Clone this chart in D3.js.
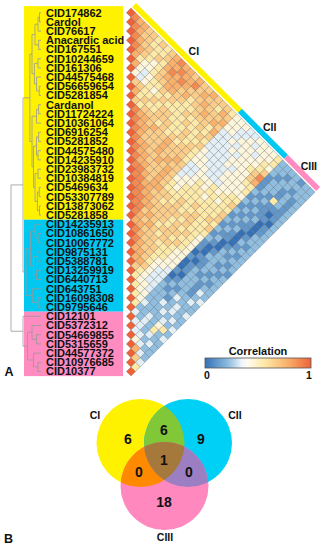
<!DOCTYPE html>
<html>
<head>
<meta charset="utf-8">
<script src="https://cdn.jsdelivr.net/npm/d3@7"></script>
<style>
  body { margin: 0; background: #fff; }
  svg { display: block; font-family: "Liberation Sans", Arial, sans-serif; font-weight: bold; }
</style>
</head>
<body>
<svg id="fig" width="327" height="550"></svg>
<script>
// ---------------------------------------------------------------------------
// Data
// ---------------------------------------------------------------------------

// Compound labels, top to bottom (dendrogram leaf order).
const labels = [
  "CID174862", "Cardol", "CID76617", "Anacardic acid", "CID167551",
  "CID10244659", "CID161306", "CID44575468", "CID56659654", "CID5281854",
  "Cardanol", "CID11724224", "CID10361064", "CID6916254", "CID5281852",
  "CID44575480", "CID14235910", "CID23983732", "CID10384819", "CID5469634",
  "CID53307789", "CID13873062", "CID5281858",
  "CID14235913", "CID10861650", "CID10067772", "CID9875131", "CID5388781",
  "CID13259919", "CID6440713", "CID643751", "CID16098308", "CID9795646",
  "CID12101", "CID5372312", "CID54669855", "CID5315659", "CID44577372",
  "CID10976685", "CID10377"
];

const clusterNames = ["CI", "CII", "CIII"];
const clusterSizes = [23, 10, 7];

// Upper triangle of the correlation matrix, row i holds j = i+1 .. 39.
// One digit per cell, value = digit / 9 (spaces only separate the cluster blocks).
const corrRows = [
  "8776 65656 787767 6676665 4443344445 2222122",
  "876 65556 778778 6766576 4433434445 2212222",
  "87 66565 787876 6676667 4434443454 2122122",
  "8 76545 677767 5667676 3343444456 1221212",
  "75445 667766 5566657 3334344568 1221212",
  "7434 556565 5655656 3333444467 1215212",
  "434 545655 5565565 3333434455 2121112",
  "66 556566 5556556 4333344445 1211012",
  "7 565566 6556565 4433344444 2121102",
  "656665 6565665 4443334455 1212012",
  "87767 6676665 3344454556 2121012",
  "8776 6676676 3345455455 1211022",
  "876 6676766 3445545556 2120122",
  "87 7667676 4455555556 1210212",
  "8 7766676 5455565565 2110122",
  "8776676 5556556556 1201212",
  "887677 6656566555 2102122",
  "88776 6566656554 1012212",
  "8877 6666565654 1022121",
  "887 7666566554 0112212",
  "88 6765665654 1012122",
  "8 7676566544 0121212",
  "7766655544 0122122",
  "876665544 1022132",
  "87665443 0122123",
  "7765433 1212232",
  "776433 2123222",
  "65433 2212323",
  "5443 2232322",
  "544 2223232",
  "54 3222323",
  "5 2232452",
  "3232523",
  "332322",
  "33232",
  "4322",
  "732",
  "63",
  "5"
];

// Dendrogram: [height, left, right]; leaves are row indices.
const dendro = [1.0,
  [0.6,
    [0.37,
      [0.3,
        [0.2, [0.1, [0.05, 0, 1], 2], [0.08, 3, 4]],
        [0.22, [0.1, 5, 6], [0.15, 7, [0.06, 8, 9]]]],
      [0.3,
        [0.15, [0.08, 10, 11], 12],
        [0.25, [0.15, [0.08, 13, 14], [0.1, 15, 16]],
               [0.2, [0.1, 17, 18], [0.12, [0.06, 19, 20], [0.05, 21, 22]]]]]],
    [0.5,
      [0.35, [0.2, 23, [0.1, 24, 25]], [0.25, [0.12, 26, 27], [0.15, 28, 29]]],
      [0.28, 30, [0.1, 31, 32]]]],
  [0.6, 33, [0.45, [0.3, 34, [0.15, 35, 36]], [0.25, 37, [0.1, 38, 39]]]]
];

// Venn diagram (panel B)
const vennSets = ["CI", "CII", "CIII"];
const vennRegions = ["CI", "CI∩CII", "CII", "CI∩CIII", "CI∩CII∩CIII", "CII∩CIII", "CIII"];
const vennCounts = [6, 6, 9, 0, 1, 0, 18];

// ---------------------------------------------------------------------------
// Styling / layout
// ---------------------------------------------------------------------------
const clusterFill = ["#fff200", "#00c8f0", "#ff8cc0"];
const FONT_LABEL = 11;
const X0 = 131;             // x of the diagonal cells
const LABEL_X = 46;
const BOX_X0 = 24, BOX_X1 = 123;

const vennLayout = {
  circles: { CI: [140.5, 443], CII: [188, 443], CIII: [164.5, 486] },
  r: 44,
  fill: { CI: "#fff200", CII: "#00d0f5", CIII: "#ff88bf" },
  overlap: { "CI∩CII": "#80c837", "CI∩CIII": "#ff8a00", "CII∩CIII": "#9c7fc2", "CI∩CII∩CIII": "#a5783b" },
  numPos: {
    "CI": [128, 439], "CI∩CII": [164, 430], "CII": [201, 439],
    "CI∩CIII": [139, 472], "CI∩CII∩CIII": [164, 460], "CII∩CIII": [189, 472], "CIII": [164, 502]
  },
  namePos: { CI: [95, 415], CII: [235, 415], CIII: [165, 537] }
};

const svg = d3.select("#fig");

// ---------------------------------------------------------------------------
// Scales
// ---------------------------------------------------------------------------
const rowY = d3.scalePoint().domain(d3.range(labels.length)).range([12.7, 371.5]);
const step = rowY.step();
const h = step / 2;

const color = d3.scaleLinear()
  .domain([0, 0.22, 0.37, 0.56, 0.78, 1])
  .range(["#3571b6", "#8dbde0", "#ffffff", "#fde9a6", "#f9b06a", "#ef6238"]);

const dendroX = d3.scaleLinear().domain([0, 1]).range([41, 11]);

const clusterStart = clusterSizes.map((n, c) => d3.sum(clusterSizes.slice(0, c)));

// ---------------------------------------------------------------------------
// Label boxes + labels
// ---------------------------------------------------------------------------
svg.append("g").selectAll("rect")
  .data(clusterSizes)
  .join("rect")
  .attr("x", BOX_X0)
  .attr("width", BOX_X1 - BOX_X0)
  .attr("y", (n, c) => rowY(clusterStart[c]) - h - (c === 0 ? 2 : 0))
  .attr("height", (n, c) => n * step + (c === 0 ? 2 : 0))
  .attr("fill", (n, c) => clusterFill[c]);

svg.append("g").selectAll("text")
  .data(labels)
  .join("text")
  .attr("x", LABEL_X)
  .attr("y", (d, i) => rowY(i))
  .attr("dy", "0.36em")
  .attr("font-size", FONT_LABEL)
  .attr("fill", "#111")
  .text(d => d);

// ---------------------------------------------------------------------------
// Dendrogram
// ---------------------------------------------------------------------------
const root = d3.hierarchy(dendro, d => Array.isArray(d) ? d.slice(1) : null);
root.eachAfter(n => {
  if (n.children) {
    n.px = dendroX(n.data[0]);
    n.py = (n.children[0].py + n.children[n.children.length - 1].py) / 2;
  } else {
    n.px = dendroX(0);
    n.py = rowY(n.data);
  }
});
const dg = svg.append("g").attr("stroke", "#999").attr("stroke-width", 0.8).attr("fill", "none");
root.each(n => {
  if (!n.children) return;
  dg.append("line").attr("x1", n.px).attr("x2", n.px)
    .attr("y1", n.children[0].py).attr("y2", n.children[n.children.length - 1].py);
  n.children.forEach(c => {
    dg.append("line").attr("x1", n.px).attr("x2", c.px).attr("y1", c.py).attr("y2", c.py);
  });
});

// ---------------------------------------------------------------------------
// Triangular heatmap
// ---------------------------------------------------------------------------
const cells = labels.map((_, i) => ({ i, j: i, v: 1 }));
corrRows.forEach((s, i) => {
  s.replace(/ /g, "").split("").forEach((c, k) => cells.push({ i, j: i + 1 + k, v: +c / 9 }));
});

const cellX = d => X0 + (rowY(d.j) - rowY(d.i)) / 2;
const cellY = d => (rowY(d.i) + rowY(d.j)) / 2;

svg.append("g").selectAll("path")
  .data(cells)
  .join("path")
  .attr("d", d => {
    const x = cellX(d), y = cellY(d);
    return `M${x},${y - h}L${x + h},${y}L${x},${y + h}L${x - h},${y}Z`;
  })
  .attr("fill", d => color(d.v))
  .attr("stroke", "#555")
  .attr("stroke-opacity", 0.55)
  .attr("stroke-width", 0.55);

// Cluster bars along the top edge of the triangle
const edgePt = j => [X0 + j * h, rowY(0) - h + j * h];   // top corner of cell (0, j)
const off = (p, d) => [p[0] + d / Math.SQRT2, p[1] - d / Math.SQRT2];
const barG = svg.append("g");
clusterSizes.forEach((n, c) => {
  const a = edgePt(clusterStart[c]), b = edgePt(clusterStart[c] + n);
  const pts = [off(a, 1.6), off(b, 1.6), off(b, 7.2), off(a, 7.2)];
  barG.append("polygon")
    .attr("points", pts.map(p => p.join(",")).join(" "))
    .attr("fill", clusterFill[c]);
  const m = off([(a[0] + b[0]) / 2, (a[1] + b[1]) / 2], 14);
  barG.append("text")
    .attr("x", m[0]).attr("y", m[1])
    .attr("dy", "0.36em")
    .attr("text-anchor", "middle")
    .attr("font-size", 10.5)
    .attr("fill", "#111")
    .text(clusterNames[c]);
});

// ---------------------------------------------------------------------------
// Colour legend
// ---------------------------------------------------------------------------
const legX = d3.scaleLinear().domain([0, 1]).range([205, 311]);
const grad = svg.append("defs").append("linearGradient").attr("id", "corr-grad");
grad.selectAll("stop")
  .data(d3.range(0, 1.0001, 0.05))
  .join("stop")
  .attr("offset", d => `${d * 100}%`)
  .attr("stop-color", d => color(d));

svg.append("rect")
  .attr("x", legX(0)).attr("y", 358)
  .attr("width", legX(1) - legX(0)).attr("height", 10)
  .attr("fill", "url(#corr-grad)")
  .attr("stroke", "#555").attr("stroke-width", 0.8);

svg.append("text")
  .attr("x", (legX(0) + legX(1)) / 2).attr("y", 355)
  .attr("text-anchor", "middle").attr("font-size", 11).attr("fill", "#111")
  .text("Correlation");

svg.append("g").selectAll("text")
  .data([0, 1])
  .join("text")
  .attr("x", d => legX(d) + (d === 0 ? 2 : -2))
  .attr("y", 378.5)
  .attr("text-anchor", "middle").attr("font-size", 10.5).attr("fill", "#111")
  .text(d => d);

// Panel letters
svg.append("text").attr("x", 4.5).attr("y", 376).attr("font-size", 12.5).attr("fill", "#111").text("A");
svg.append("text").attr("x", 4).attr("y", 543).attr("font-size", 12.5).attr("fill", "#111").text("B");

// ---------------------------------------------------------------------------
// Venn diagram
// ---------------------------------------------------------------------------
const V = vennLayout;
const vdefs = svg.select("defs");
vennSets.forEach(s => {
  vdefs.append("clipPath").attr("id", "clip-" + s)
    .append("circle")
    .attr("cx", V.circles[s][0]).attr("cy", V.circles[s][1]).attr("r", V.r);
});

const vg = svg.append("g");
const circ = (parent, s, fill) => parent.append("circle")
  .attr("cx", V.circles[s][0]).attr("cy", V.circles[s][1]).attr("r", V.r)
  .attr("fill", fill);

vennSets.forEach(s => circ(vg, s, V.fill[s]));
circ(vg.append("g").attr("clip-path", "url(#clip-CI)"), "CII", V.overlap["CI∩CII"]);
circ(vg.append("g").attr("clip-path", "url(#clip-CI)"), "CIII", V.overlap["CI∩CIII"]);
circ(vg.append("g").attr("clip-path", "url(#clip-CII)"), "CIII", V.overlap["CII∩CIII"]);
circ(vg.append("g").attr("clip-path", "url(#clip-CI)")
       .append("g").attr("clip-path", "url(#clip-CII)"), "CIII", V.overlap["CI∩CII∩CIII"]);

vg.selectAll("text.count")
  .data(vennRegions)
  .join("text")
  .attr("class", "count")
  .attr("x", r => V.numPos[r][0]).attr("y", r => V.numPos[r][1])
  .attr("dy", "0.36em")
  .attr("text-anchor", "middle").attr("font-size", 14).attr("fill", "#111")
  .text((r, k) => vennCounts[k]);

vg.selectAll("text.name")
  .data(vennSets)
  .join("text")
  .attr("class", "name")
  .attr("x", s => V.namePos[s][0]).attr("y", s => V.namePos[s][1])
  .attr("dy", "0.36em")
  .attr("text-anchor", "middle").attr("font-size", 10.5).attr("fill", "#111")
  .text(s => s);
</script>
</body>
</html>
